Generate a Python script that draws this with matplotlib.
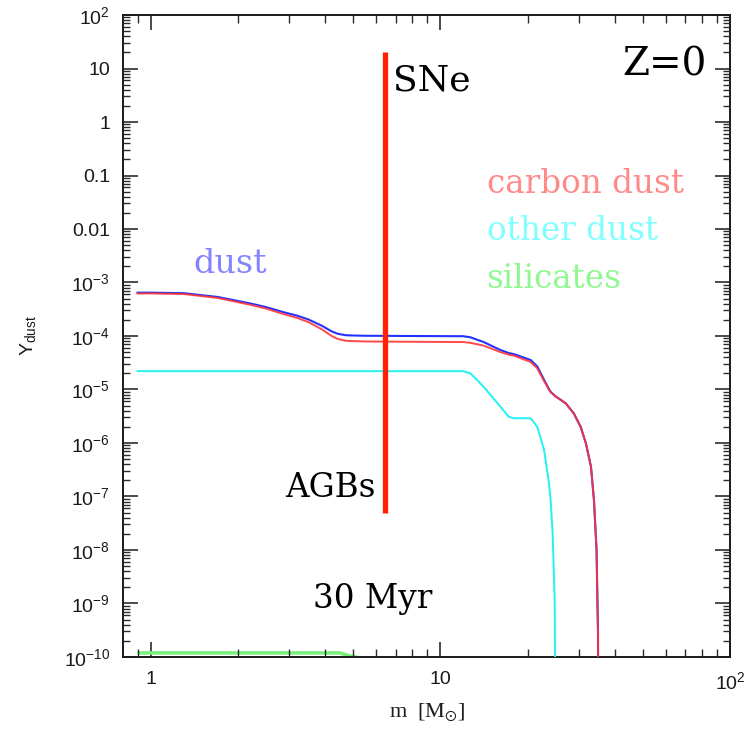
import numpy as np
import matplotlib
matplotlib.use("Agg")
import matplotlib.pyplot as plt
from matplotlib.collections import LineCollection
from matplotlib.ticker import FixedLocator, FuncFormatter, NullLocator

# ---- data: dust yields per stellar mass (Z = 0, 30 Myr) ----
mass = [0.9, 1.0, 1.3, 1.7, 2.2, 2.5, 2.9, 3.2, 3.5, 3.9, 4.2, 4.4, 4.5, 4.7,
        4.9, 5.3, 5.5, 8.0, 12.0, 12.7, 13.4, 14.1, 14.9, 16.1, 17.2, 17.9,
        18.4, 20.5, 21.6, 22.8, 23.7, 24.0, 24.4, 24.8, 25.0, 25.3, 27.1,
        28.9, 30.5, 31.8, 33.1, 33.9, 34.6, 35.0, 35.1]

carbon_dust = [6.24e-4, 6.24e-4, 6.09e-4, 5.15e-4, 3.85e-4, 3.25e-4, 2.53e-4,
               2.18e-4, 1.82e-4, 1.33e-4, 1.01e-4, 8.9e-5, 8.6e-5, 8.15e-5,
               8.05e-5, 7.95e-5, 7.9e-5, 7.8e-5, 7.7e-5, 7.45e-5, 7.0e-5,
               6.6e-5, 5.9e-5, 5.0e-5, 4.5e-5, 4.3e-5, 4.08e-5, 3.26e-5,
               2.49e-5, 1.44e-5, 1.0e-5, 9.0e-6, 8.3e-6, 7.7e-6, 7.4e-6,
               7.1e-6, 5.5e-6, 3.55e-6, 2.0e-6, 9.8e-7, 3.6e-7, 8.5e-8,
               1.0e-8, 2.8e-10, 1.0e-12]

other_dust = [2.2e-5, 2.2e-5, 2.2e-5, 2.2e-5, 2.2e-5, 2.2e-5, 2.2e-5, 2.2e-5,
              2.2e-5, 2.2e-5, 2.2e-5, 2.2e-5, 2.2e-5, 2.2e-5, 2.2e-5, 2.2e-5,
              2.2e-5, 2.2e-5, 2.2e-5, 2.0e-5, 1.5e-5, 1.12e-5, 7.9e-6, 4.8e-6,
              3.1e-6, 2.9e-6, 2.9e-6, 2.9e-6, 2.0e-6, 7.4e-7, 1.8e-7, 9.0e-8,
              2.1e-8, 1.2e-9, 1.0e-12, 0, 0, 0, 0, 0, 0, 0, 0, 0, 0]

silicates = [1.19e-10, 1.19e-10, 1.19e-10, 1.19e-10, 1.19e-10, 1.19e-10,
             1.19e-10, 1.19e-10, 1.19e-10, 1.19e-10, 1.19e-10, 1.19e-10,
             1.19e-10, 1.1e-10, 1.04e-10, 9.5e-11, 0, 0, 0, 0, 0, 0, 0, 0, 0,
             0, 0, 0, 0, 0, 0, 0, 0, 0, 0, 0, 0, 0, 0, 0, 0, 0, 0, 0, 0]

# AGB / SN divide
sn_mass = 6.45
sn_ymin, sn_ymax = 5e-8, 20.0

x_ticks = [1, 10, 100]
x_ticklabels = ["1", "10", r"10$^2$"]
y_decades = list(range(-10, 3))

plt.rcParams["mathtext.fontset"] = "custom"
plt.rcParams["mathtext.rm"] = "Liberation Sans"
plt.rcParams["mathtext.it"] = "Liberation Sans:italic"
plt.rcParams["mathtext.bf"] = "Liberation Sans:bold"
plt.rcParams["font.family"] = ["Liberation Sans", "DejaVu Sans"]

m = np.array(mass)
c = np.array(carbon_dust)
o = np.array(other_dust)
s = np.array(silicates)
total = c + o + s


def positive(v):
    return np.where(v > 0, v, np.nan)


fig = plt.figure(figsize=(7.51, 7.29), dpi=100)
ax = fig.add_axes([0.1634, 0.0988, 0.8087, 0.8806])
ax.set_xscale("log")
ax.set_yscale("log")

ax.plot(m, positive(s), color="#7cf07c", lw=2.6, solid_capstyle="butt", zorder=2)
ax.plot(m, positive(o), color="#22f2f2", lw=1.4, zorder=3)
ax.plot(m, positive(total), color="#2233ff", lw=1.5, zorder=3)
ax.plot(m, positive(c), color="#ff3535", lw=1.4, alpha=0.9, zorder=4)

ax.vlines(sn_mass, sn_ymin, sn_ymax, color="#ff2200", lw=3.8, zorder=5)

xmin, xmax = 0.8, 100
ymin, ymax = 1e-10, 1e2
ax.set_xlim(xmin, xmax)
ax.set_ylim(ymin, ymax)

# major ticks via the axes, minor ticks as short inward strokes on all sides
subs = np.arange(2, 10)
x_minor = [k * 10.0 ** d for d in (-1, 0, 1) for k in subs
           if xmin < k * 10.0 ** d < xmax]
y_major = [10.0 ** d for d in y_decades]
y_minor = [k * 10.0 ** d for d in y_decades[:-1] for k in subs]

ax.xaxis.set_major_locator(FixedLocator(x_ticks))
ax.set_xticklabels(x_ticklabels)
ax.yaxis.set_major_locator(FixedLocator(y_major))
ax.xaxis.set_minor_locator(NullLocator())
ax.yaxis.set_minor_locator(NullLocator())

minor_len_x = 7.5 / 607.0   # axes fraction along x
minor_len_y = 7.5 / 642.0   # axes fraction along y
seg_y = [[(0, v), (minor_len_x, v)] for v in y_minor] + \
        [[(1 - minor_len_x, v), (1, v)] for v in y_minor]
seg_x = [[(v, 0), (v, minor_len_y)] for v in x_minor] + \
        [[(v, 1 - minor_len_y), (v, 1)] for v in x_minor]
ax.add_collection(LineCollection(seg_y, transform=ax.get_yaxis_transform(),
                                 colors="#2a2a2a", linewidths=1.0,
                                 zorder=6, clip_on=False))
ax.add_collection(LineCollection(seg_x, transform=ax.get_xaxis_transform(),
                                 colors="#2a2a2a", linewidths=1.0,
                                 zorder=6, clip_on=False))
ax.set_xlim(xmin, xmax)
ax.set_ylim(ymin, ymax)


def ylab(v, pos):
    e = int(round(np.log10(v)))
    if e == 1:
        return "10"
    if e == 0:
        return "1"
    if e == -1:
        return "0.1"
    if e == -2:
        return "0.01"
    return r"10$^{%d}$" % e


ax.yaxis.set_major_formatter(FuncFormatter(ylab))
ax.tick_params(which="major", direction="in", top=True, right=True,
               color="#1a1a1a", labelsize=14, labelcolor="#1a1a1a",
               length=10.5, width=1.1)
ax.tick_params(axis="y", which="major", pad=9)
ax.tick_params(axis="x", which="major", pad=10)
for sp in ax.spines.values():
    sp.set_linewidth(1.4)
    sp.set_color("#1a1a1a")

# axis titles
fig.text(28 / 751, 1 - 336 / 729, r"$\mathrm{Y}_{\mathrm{dust}}$", rotation=90,
         ha="center", va="center", fontsize=14, color="#1a1a1a")
fig.text(427 / 751, 1 - 712 / 729, r"m  [M$_{\odot}$]", ha="center", va="center",
         fontsize=16, family="Liberation Serif", math_fontfamily="stix",
         color="#1a1a1a")

# annotations
serif = "DejaVu Serif"
ax.text(0.445, 0.883, "SNe", transform=ax.transAxes, fontsize=26, family=serif,
        color="black", va="baseline", ha="left")
ax.text(0.822, 0.9065, "Z=0", transform=ax.transAxes, fontsize=28, family=serif,
        color="black", va="baseline", ha="left")
ax.text(0.599, 0.7222, "carbon dust", transform=ax.transAxes, fontsize=23.5,
        family=serif, color="#ff8a8a", va="baseline", ha="left")
ax.text(0.599, 0.6495, "other dust", transform=ax.transAxes, fontsize=23.5,
        family=serif, color="#80ffff", va="baseline", ha="left")
ax.text(0.599, 0.5743, "silicates", transform=ax.transAxes, fontsize=23.5,
        family=serif, color="#90f890", va="baseline", ha="left")
ax.text(0.1163, 0.5986, "dust", transform=ax.transAxes, fontsize=24,
        family=serif, color="#8484ff", va="baseline", ha="left")
ax.text(0.417, 0.2497, "AGBs", transform=ax.transAxes, fontsize=23.5,
        family=serif, color="black", va="baseline", ha="right")
ax.text(0.3139, 0.0759, "30 Myr", transform=ax.transAxes, fontsize=23.5,
        family=serif, color="black", va="baseline", ha="left")

fig.savefig("out.png", dpi=100, facecolor="white")
